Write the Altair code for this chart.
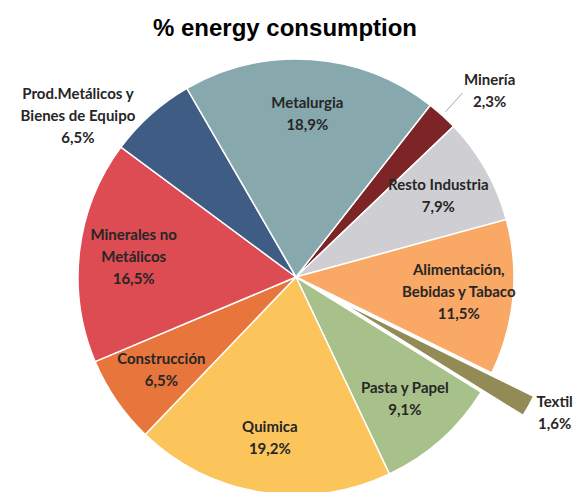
import json
import math
import altair as alt
import pandas as pd

# ---- data (clockwise, starting with Minería) ----
categories = ["Minería", "Resto Industria", "Alimentación, Bebidas y Tabaco", "Textil",
              "Pasta y Papel", "Quimica", "Construcción", "Minerales no Metálicos",
              "Prod.Metálicos y Bienes de Equipo", "Metalurgia"]
label_names = ["Minería", "Resto Industria", "Alimentación,\nBebidas y Tabaco", "Textil",
               "Pasta y Papel", "Quimica", "Construcción", "Minerales no\nMetálicos",
               "Prod.Metálicos y\nBienes de Equipo", "Metalurgia"]
shares = [2.3, 7.9, 11.5, 1.6, 9.1, 19.2, 6.5, 16.5, 6.5, 18.9]
colors = ["#7d2427", "#cfcfd3", "#f9a865", "#938b55", "#a8c08a",
          "#fbc55c", "#e8753c", "#dd4b53", "#3f5c84", "#87a9ae"]
outside = ["Minería", "Textil", "Prod.Metálicos y Bienes de Equipo"]
exploded = ["Textil"]
leader = ["Minería"]

# ---- layout constants ----
CX, CY = 288, 224          # pie centre in plot coordinates
R = 218                    # pie radius
R_IN = 0.75 * R            # inside label radius
GAP = 5                    # outside label gap from the rim
LEFT_PAD = 12              # extra horizontal room for labels left of the pie
LEAD = 28                  # extra distance for labels with a leader line
EXP = 48                   # explosion distance
LH = 22                    # label line height
CHAR_W = 7.2               # approx. label character width
START = math.radians(38)   # start angle of first slice

labels_txt = [f"{n}\n" + f"{s:.1f}%".replace(".", ",") for n, s in zip(label_names, shares)]
df = pd.DataFrame({
    "cat": categories,
    "share": shares,
    "order": list(range(len(categories))),
    "label": labels_txt,
    "maxlen": [max(len(p) for p in t.split("\n")) for t in labels_txt],
})

two_pi = 2 * math.pi
ex_expr = f"indexof({json.dumps(exploded)}, datum.cat) >= 0 ? {EXP} : 0"
out_expr = f"indexof({json.dumps(outside)}, datum.cat) >= 0"
lead_expr = f"indexof({json.dumps(leader)}, datum.cat) >= 0"

base = alt.Chart(df).transform_window(
    cum="sum(share)", sort=[alt.SortField("order", order="ascending")], frame=[None, 0]
).transform_calculate(
    a0=f"{START} + (datum.cum - datum.share) / 100 * {two_pi}",
    a1=f"{START} + datum.cum / 100 * {two_pi}",
).transform_calculate(
    mid="(datum.a0 + datum.a1) / 2",
    ex=ex_expr,
    isout=out_expr,
    islead=lead_expr,
    nl="split(datum.label, '\\n').length",
).transform_calculate(
    ax=f"{CX} + datum.ex * sin(datum.mid)",
    ay=f"{CY} - datum.ex * cos(datum.mid)",
    lr=f"datum.isout ? {R + GAP} + datum.ex + (datum.islead ? {LEAD} : 0) : {R_IN}",
    shift=(f"datum.isout ? (sin(datum.mid) >= 0 ? datum.maxlen * {CHAR_W} / 2"
           f" : -datum.maxlen * {CHAR_W} / 2 - {LEFT_PAD}) : 0"),
).transform_calculate(
    lx=f"{CX} + datum.lr * sin(datum.mid) + datum.shift",
    ly=f"{CY} - datum.lr * cos(datum.mid) - (datum.nl - 1) * {LH} / 2"
       f" + ((datum.isout && !datum.islead) ? 5 : 0)",
    l1x=f"{CX} + {R + 5} * sin(datum.mid)",
    l1y=f"{CY} - {R + 5} * cos(datum.mid)",
    l2x=f"{CX} + {R + 30} * sin(datum.mid)",
    l2y=f"{CY} - {R + 30} * cos(datum.mid)",
)

arcs = base.mark_arc(outerRadius=R, stroke="white", strokeWidth=1.5).encode(
    theta=alt.Theta("a0:Q", scale=None, stack=None),
    theta2="a1:Q",
    x=alt.X("ax:Q", scale=None, axis=None),
    y=alt.Y("ay:Q", scale=None, axis=None),
    color=alt.Color("cat:N", scale=alt.Scale(domain=categories, range=colors), legend=None),
)

leaders = base.transform_filter(
    alt.FieldOneOfPredicate(field="cat", oneOf=leader)
).mark_rule(color="#a6a6a6", strokeWidth=1).encode(
    x=alt.X("l1x:Q", scale=None, axis=None),
    y=alt.Y("l1y:Q", scale=None, axis=None),
    x2="l2x:Q",
    y2="l2y:Q",
)

labels = base.mark_text(
    font="Lato", fontWeight="bold", fontSize=15, lineHeight=LH, lineBreak="\n",
    color="#262626", align="center", baseline="middle",
).encode(
    x=alt.X("lx:Q", scale=None, axis=None),
    y=alt.Y("ly:Q", scale=None, axis=None),
    text="label:N",
)

chart = alt.layer(arcs, leaders, labels).properties(
    width=570,
    height=439,
    padding={"top": 45, "left": 0, "right": 0, "bottom": 0},
    autosize=alt.AutoSizeParams(type="none"),
    title=alt.Title("% energy consumption", font="Liberation Sans", fontSize=24,
                    fontWeight="bold", color="black", anchor="middle", dx=-8, offset=12),
).configure_view(stroke=None)

chart.save("out.html", embed_options={"renderer": "svg", "actions": False})
